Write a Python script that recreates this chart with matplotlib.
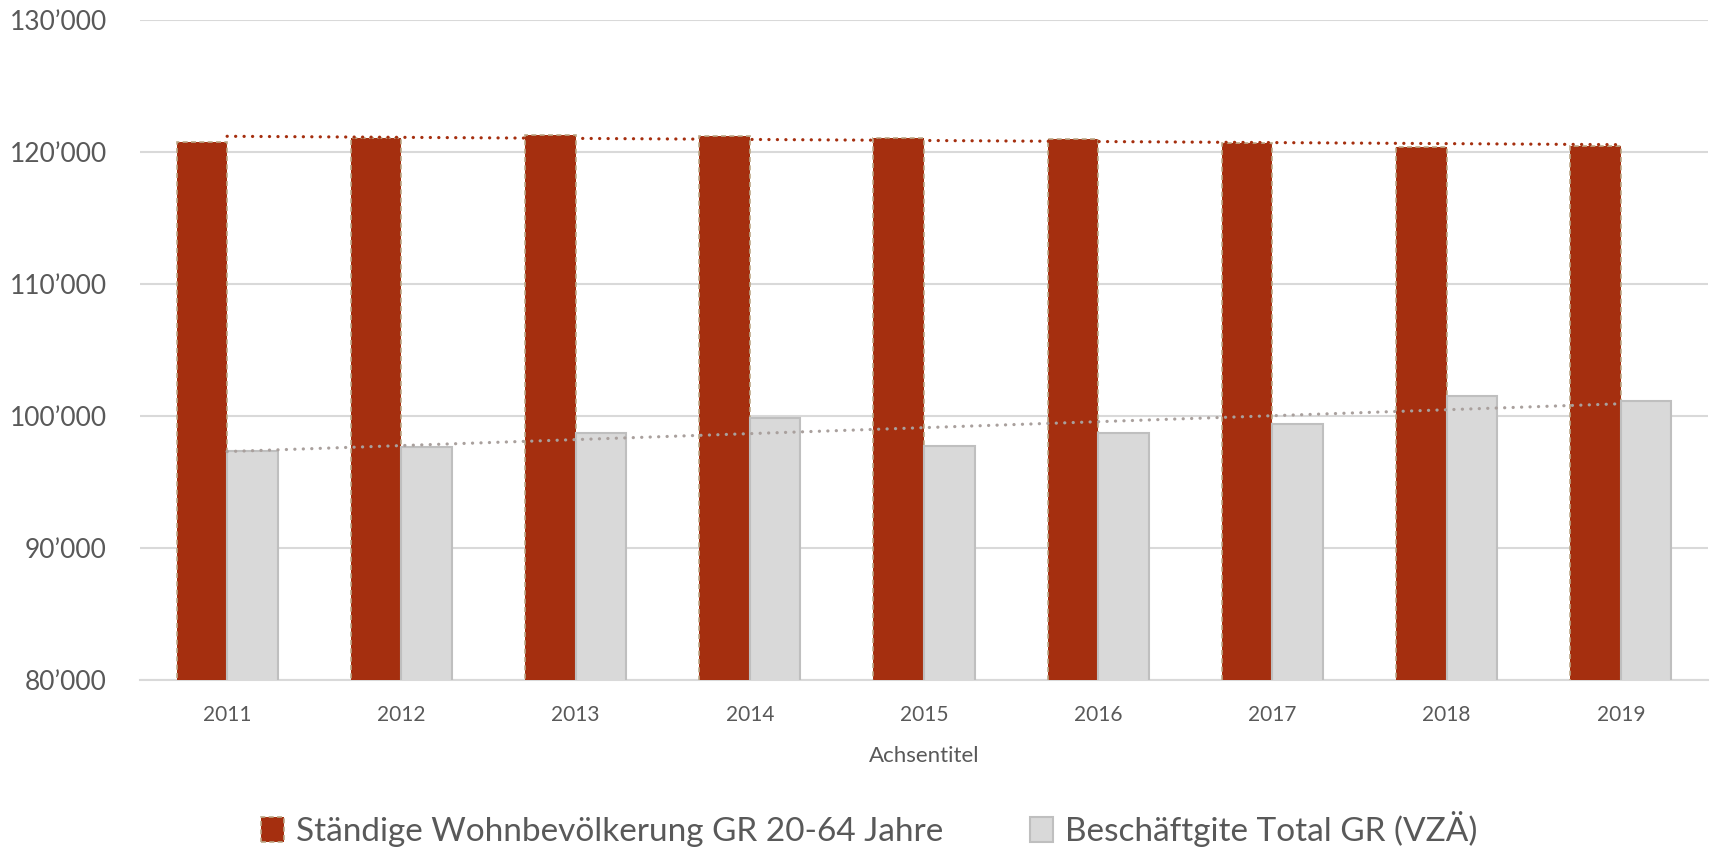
import numpy as np
import matplotlib
matplotlib.use("Agg")
import matplotlib.pyplot as plt
from matplotlib.ticker import FuncFormatter

years = ["2011", "2012", "2013", "2014", "2015", "2016", "2017", "2018", "2019"]
wohnbev = [120756, 121058, 121300, 121232, 121028, 121005, 120650, 120350, 120476]
beschaeftigte = [97330, 97635, 98723, 99826, 97762, 98723, 99400, 101490, 101164]
label_wohn = "Ständige Wohnbevölkerung GR 20-64 Jahre"
label_besch = "Beschäftgite Total GR (VZÄ)"
y_ticks = [80000, 90000, 100000, 110000, 120000, 130000]

plt.rcParams['font.family'] = ['Lato', 'DejaVu Sans']

RED = '#A52F0F'
GRAY = '#D9D9D9'
TXT = '#595959'

fig = plt.figure(figsize=(17.11, 8.47), dpi=100)
ax = fig.add_axes([140/1711, 1-680/847, (1708-140)/1711, (680-20)/847])

x = np.arange(len(years))
w = 0.29
ax.bar(x - w/2, wohnbev, width=w, color=RED, edgecolor='#BCA888',
       linewidth=1.2, linestyle=(0, (3, 2)), label=label_wohn, zorder=3)
ax.bar(x + w/2, beschaeftigte, width=w, color=GRAY, edgecolor='#BFBFBF',
       linewidth=1.5, label=label_besch, zorder=3)

# linear trend lines
for vals, col in [(wohnbev, RED), (beschaeftigte, '#A9A09D')]:
    k, d = np.polyfit(x, vals, 1)
    ax.plot(x, k*x + d, color=col, linewidth=2.3, linestyle=(0, (0.05, 2.6)),
            dash_capstyle='round', zorder=4)

ax.set_xlim(-0.5, len(years) - 0.5)
ax.set_ylim(80000, 130000)
ax.set_yticks(y_ticks)
ax.yaxis.set_major_formatter(FuncFormatter(lambda v, p: f"{int(v):,}".replace(",", "\u2019")))
ax.set_xticks(x)
ax.set_xticklabels(years)
ax.tick_params(axis='y', length=0, pad=24, labelsize=19, labelcolor=TXT)
ax.tick_params(axis='x', length=0, pad=18, labelsize=15, labelcolor=TXT)
ax.grid(axis='y', color='#D9D9D9', linewidth=1.5, zorder=0)
ax.set_axisbelow(True)
for s in ['top', 'right', 'left']:
    ax.spines[s].set_visible(False)
ax.spines['bottom'].set_color('#D9D9D9')
ax.spines['bottom'].set_linewidth(1.5)
ax.set_xlabel("Achsentitel", fontsize=16, color=TXT, labelpad=15)

fig.legend(loc='center', bbox_to_anchor=(0.508, 1-829/847), ncol=2, frameon=False,
           fontsize=24, labelcolor=TXT, handlelength=0.7, handleheight=0.8,
           handletextpad=0.35, columnspacing=2.6)

fig.savefig("out.png", dpi=100)
